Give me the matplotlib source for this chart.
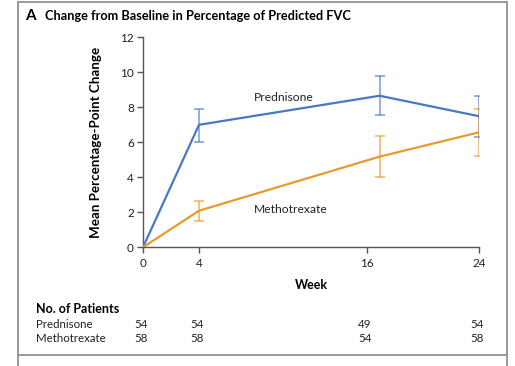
import matplotlib
matplotlib.use("Agg")
import matplotlib.pyplot as plt
from matplotlib.lines import Line2D

plt.rcParams['font.family'] = ['Lato', 'DejaVu Sans']

# data
weeks = [0, 4, 16.9, 24]
tick_weeks = [0, 4, 16, 24]
pred_mean = [0, 7.0, 8.66, 7.49]
pred_lo = [0, 6.03, 7.54, 6.3]
pred_hi = [0, 7.9, 9.8, 8.65]
mtx_mean = [0, 2.09, 5.18, 6.57]
mtx_lo = [0, 1.5, 4.02, 5.22]
mtx_hi = [0, 2.66, 6.36, 7.92]
n_pred = [54, 54, 49, 54]
n_mtx = [58, 58, 54, 58]

blue = '#4a78c4'
orange = '#e89a2c'
W, H = 515, 366

fig = plt.figure(figsize=(W / 100, H / 100), dpi=100)
ax = fig.add_axes([143 / W, 1 - 247.3 / H, (479 - 143) / W, (247.3 - 37.3) / H])

def draw(mean, lo, hi, color):
    ax.plot(weeks, mean, color=color, lw=1.6, zorder=3)
    yerr = [[m - l for m, l in zip(mean[1:], lo[1:])],
            [h - m for m, h in zip(mean[1:], hi[1:])]]
    ax.errorbar(weeks[1:], mean[1:], yerr=yerr, fmt='none', ecolor=color,
                alpha=0.75, elinewidth=1.1, capsize=3.5, capthick=1.1, zorder=2)

draw(pred_mean, pred_lo, pred_hi, blue)
draw(mtx_mean, mtx_lo, mtx_hi, orange)

ax.set_xlim(0, 24)
ax.set_ylim(0, 12)
ax.set_xticks(tick_weeks)
ax.set_yticks(range(0, 13, 2))
for s in ['top', 'right']:
    ax.spines[s].set_visible(False)
for s in ['left', 'bottom']:
    ax.spines[s].set_color('#555555')
    ax.spines[s].set_linewidth(1.0)
ax.tick_params(length=4.5, width=1.0, color='#555555', labelsize=8.5, labelcolor='#222222')
ax.tick_params(axis='x', pad=3)
ax.tick_params(axis='y', pad=2)
ax.patch.set_alpha(0)

ax.text(7.9, 8.35, 'Prednisone', fontsize=8.7, color='#222222')
ax.text(7.9, 1.95, 'Methotrexate', fontsize=8.7, color='#222222')

ax.set_ylabel('Mean Percentage-Point Change', fontsize=9.6, fontweight='bold', labelpad=13)
fig.text(311 / W, 1 - 285 / H, 'Week', fontsize=9, fontweight='bold', ha='center', va='center')

# title
fig.text(25 / W, 1 - 16 / H, 'A', fontsize=11, fontweight='bold', va='center')
fig.text(45 / W, 1 - 16 / H, 'Change from Baseline in Percentage of Predicted FVC',
         fontsize=9.2, fontweight='bold', va='center')

# number at risk table
fig.text(36 / W, 1 - 309 / H, 'No. of Patients', fontsize=9, fontweight='bold', va='center')
rows = [('Prednisone', n_pred, 324), ('Methotrexate', n_mtx, 339)]
for name, counts, ypix in rows:
    fig.text(36 / W, 1 - ypix / H, name, fontsize=8.3, va='center', color='#222222')
    for wk, c in zip(tick_weeks, counts):
        xpix = 141 + wk * 14
        fig.text(xpix / W, 1 - ypix / H, str(c), fontsize=8.3, va='center', ha='center',
                 color='#222222')

# panel frame
frame_kw = dict(color='#999999', lw=1.4, transform=fig.transFigure)
fig.add_artist(Line2D([18 / W, 18 / W], [0, 1 - 2 / H], **frame_kw))
fig.add_artist(Line2D([507 / W, 507 / W], [0, 1 - 2 / H], **frame_kw))
fig.add_artist(Line2D([18 / W, 507 / W], [1 - 2 / H, 1 - 2 / H], **frame_kw))
fig.add_artist(Line2D([18 / W, 507 / W], [1 - 355 / H, 1 - 355 / H], **frame_kw))

fig.savefig('out.png', dpi=100)
